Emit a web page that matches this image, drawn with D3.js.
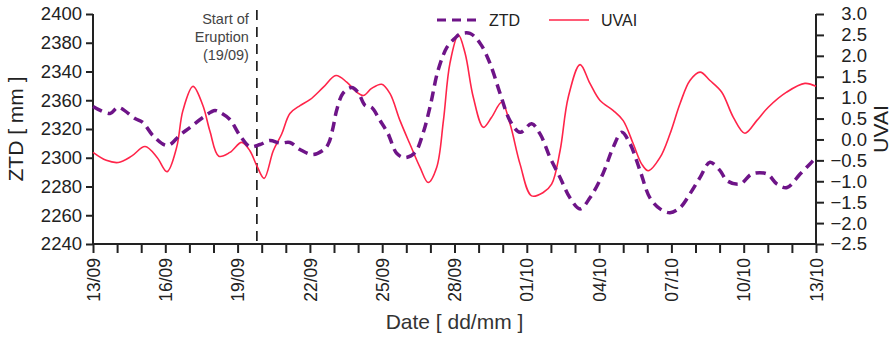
<!DOCTYPE html>
<html>
<head>
<meta charset="utf-8">
<script src="https://cdn.jsdelivr.net/npm/d3@7"></script>
<style>
	body { margin: 0; background: #fff; }
	text { font-family: "Liberation Sans", Arial, sans-serif; }
</style>
</head>
<body>
<svg id="chart" width="896" height="338"></svg>
<script>
// days counted from 13/09
var dateLabels = ['13/09', '16/09', '19/09', '22/09', '25/09', '28/09', '01/10', '04/10', '07/10', '10/10', '13/10'];
var dateLabelDays = [0, 3, 6, 9, 12, 15, 18, 21, 24, 27, 30];

// left axis labels, as printed on the original (2340/2360 swapped)
var ztdTickValues = [2240, 2260, 2280, 2300, 2320, 2340, 2360, 2380, 2400];
var ztdTickLabels = ['2240', '2260', '2280', '2300', '2320', '2360', '2340', '2380', '2400'];
var uvaiTickValues = [-2.5, -2.0, -1.5, -1.0, -0.5, 0.0, 0.5, 1.0, 1.5, 2.0, 2.5, 3.0];

var eruptionDay = 6.8;

var ztdDays = [0, 0.71, 1.04, 1.74, 2.07, 2.49, 3.09, 3.61, 4.02, 4.56, 5.06, 5.27, 5.68, 6.10, 6.51, 6.93, 7.34, 7.76, 8.17, 8.59, 9.13, 9.63, 9.8, 9.96, 10.11, 10.37, 10.73, 11.0, 11.29, 11.56, 11.91, 12.24, 12.61, 12.95, 13.36, 13.69, 13.98, 14.32, 14.69, 15.02, 15.23, 15.64, 16.06, 16.47, 16.89, 17.30, 17.72, 18.2, 18.55, 18.96, 19.38, 19.79, 20.21, 20.62, 21.16, 21.58, 21.94, 22.28, 22.70, 23.11, 23.53, 23.94, 24.36, 24.77, 25.19, 25.60, 26.02, 26.31, 26.85, 27.34, 27.97, 28.38, 28.80, 29.34, 29.75, 30.0];
var ztdValues = [2335.7, 2330.8, 2335.0, 2327.3, 2324.5, 2315.4, 2308.5, 2315.8, 2321.0, 2328.0, 2332.9, 2331.5, 2326.6, 2315.4, 2307.8, 2309.2, 2312.0, 2310.2, 2310.6, 2305.7, 2302.2, 2306.4, 2311.0, 2321.0, 2333.0, 2344.8, 2348.8, 2345.5, 2336.4, 2335.0, 2325.9, 2316.8, 2302.9, 2300.1, 2303.6, 2316.8, 2335.0, 2360.9, 2376.9, 2383.2, 2386.0, 2386.5, 2379.7, 2365.8, 2344.8, 2325.9, 2317.7, 2323.6, 2316.6, 2300.3, 2286.3, 2272.1, 2264.4, 2272.1, 2288.9, 2307.1, 2317.7, 2309.9, 2291.0, 2272.1, 2264.4, 2261.8, 2265.3, 2274.9, 2286.3, 2296.8, 2291.0, 2284.0, 2281.7, 2288.7, 2288.7, 2281.7, 2279.3, 2288.7, 2295.7, 2300.1];

var uvaiDays = [0, 0.55, 1.05, 1.6, 2.16, 2.66, 3.07, 3.47, 3.73, 4.15, 4.56, 4.85, 5.22, 5.68, 6.17, 6.51, 6.79, 7.1, 7.48, 7.83, 8.17, 8.59, 9.0, 9.56, 10.08, 10.53, 10.94, 11.22, 11.56, 11.98, 12.32, 12.74, 13.15, 13.57, 13.91, 14.26, 14.54, 14.81, 15.16, 15.44, 15.78, 16.2, 16.54, 16.96, 17.3, 17.72, 18.2, 18.68, 19.03, 19.38, 19.72, 20.21, 20.62, 21.04, 21.59, 22.0, 22.42, 22.77, 23.04, 23.53, 23.94, 24.36, 24.77, 25.19, 25.6, 26.09, 26.57, 27.05, 27.54, 28.02, 28.78, 29.54, 30];
var uvaiValues = [-0.31, -0.50, -0.55, -0.40, -0.17, -0.43, -0.77, -0.19, 0.69, 1.27, 0.81, 0.20, -0.40, -0.31, -0.07, -0.27, -0.62, -0.93, -0.27, 0.13, 0.62, 0.81, 0.95, 1.25, 1.53, 1.37, 1.13, 1.05, 1.22, 1.32, 1.10, 0.45, -0.11, -0.67, -1.03, -0.67, 0.45, 1.82, 2.50, 2.06, 1.01, 0.29, 0.53, 0.89, 0.38, -0.59, -1.35, -1.27, -1.07, -0.27, 1.01, 1.79, 1.34, 0.93, 0.69, 0.45, -0.11, -0.59, -0.75, -0.43, 0.13, 0.86, 1.41, 1.61, 1.41, 1.13, 0.53, 0.15, 0.45, 0.77, 1.13, 1.34, 1.27];

var ztdColor = '#6e1488';
var uvaiColor = '#ff2449';
var textColor = '#222';

var margin = { left: 93, right: 80, top: 14, bottom: 94 };
var width = 896, height = 338;
var plotW = width - margin.left - margin.right;
var plotH = height - margin.top - margin.bottom;

var svg = d3.select('#chart');
var g = svg.append('g').attr('transform', 'translate(' + margin.left + ',' + margin.top + ')');

var x = d3.scaleLinear().domain([0, 30]).range([0, plotW]);
var yZtd = d3.scaleLinear().domain([2240, 2400]).range([plotH, 0]);
var yUvai = d3.scaleLinear().domain([-2.5, 3.0]).range([plotH, 0]);

// axes
var leftAxis = d3.axisLeft(yZtd).tickValues(ztdTickValues).tickSize(7).tickPadding(4)
	.tickFormat(function(d, i) { return ztdTickLabels[i]; });
var rightAxis = d3.axisRight(yUvai).tickValues(uvaiTickValues).tickSize(8).tickPadding(4)
	.tickFormat(d3.format('.1f'));
var bottomAxis = d3.axisBottom(x).tickValues(d3.range(0, 31)).tickSize(9)
	.tickFormat(function(d) {
		var i = dateLabelDays.indexOf(d);
		return i >= 0 ? dateLabels[i] : '';
	});

function styleAxis(sel) {
	sel.select('.domain').attr('stroke', textColor).attr('stroke-width', 2);
	sel.selectAll('.tick line').attr('stroke', textColor).attr('stroke-width', 2);
	sel.selectAll('text').attr('fill', textColor).style('font-size', '18.5px');
}

var gl = g.append('g').call(leftAxis).call(styleAxis);
gl.select('.domain').attr('d', 'M0,0V' + plotH);
gl.selectAll('.tick text').attr('x', -11);

var gr = g.append('g').attr('transform', 'translate(' + plotW + ',0)').call(rightAxis).call(styleAxis);
gr.select('.domain').attr('d', 'M0,0V' + plotH);
gr.selectAll('.tick text').attr('text-anchor', 'end').attr('x', 51);

var gb = g.append('g').attr('transform', 'translate(0,' + plotH + ')').call(bottomAxis).call(styleAxis);
gb.select('.domain').attr('d', 'M0,0H' + plotW);
gb.selectAll('.tick text')
	.attr('text-anchor', 'end')
	.attr('transform', 'rotate(-90)')
	.attr('x', -14)
	.attr('y', 0)
	.attr('dy', '0.35em')
	.style('font-size', '17.5px');

// eruption marker
g.append('line')
	.attr('x1', x(eruptionDay)).attr('x2', x(eruptionDay))
	.attr('y1', -4).attr('y2', plotH)
	.attr('stroke', '#111').attr('stroke-width', 1.6)
	.attr('stroke-dasharray', '10,7');

var note = g.append('text')
	.attr('text-anchor', 'end')
	.attr('fill', '#444')
	.style('font-size', '14.5px');
['Start of', 'Eruption', '(19/09)'].forEach(function(s, i) {
	note.append('tspan').attr('x', x(eruptionDay) - 8).attr('y', 10 + i * 18).text(s);
});

// series
var ztdPoints = ztdDays.map(function(d, i) { return [d, ztdValues[i]]; });
var uvaiPoints = uvaiDays.map(function(d, i) { return [d, uvaiValues[i]]; });

var ztdLine = d3.line()
	.x(function(d) { return x(d[0]); })
	.y(function(d) { return yZtd(d[1]); })
	.curve(d3.curveCatmullRom.alpha(0.5));
var uvaiLine = d3.line()
	.x(function(d) { return x(d[0]); })
	.y(function(d) { return yUvai(d[1]); })
	.curve(d3.curveCatmullRom.alpha(0.5));

g.append('path').datum(uvaiPoints)
	.attr('d', uvaiLine)
	.attr('fill', 'none')
	.attr('stroke', uvaiColor)
	.attr('stroke-width', 1.6);

g.append('path').datum(ztdPoints)
	.attr('d', ztdLine)
	.attr('fill', 'none')
	.attr('stroke', ztdColor)
	.attr('stroke-width', 3.5)
	.attr('stroke-dasharray', '10,6');

// legend
var legend = svg.append('g');
legend.append('line').attr('x1', 437).attr('x2', 477).attr('y1', 20).attr('y2', 20)
	.attr('stroke', ztdColor).attr('stroke-width', 3).attr('stroke-dasharray', '9,6');
legend.append('text').attr('x', 489).attr('y', 26).attr('fill', textColor)
	.style('font-size', '16px').text('ZTD');
legend.append('line').attr('x1', 549).attr('x2', 589).attr('y1', 20).attr('y2', 20)
	.attr('stroke', uvaiColor).attr('stroke-width', 1.6);
legend.append('text').attr('x', 601).attr('y', 26).attr('fill', textColor)
	.style('font-size', '16px').text('UVAI');

// axis titles
svg.append('text')
	.attr('transform', 'translate(23,' + (margin.top + plotH / 2) + ') rotate(-90)')
	.attr('text-anchor', 'middle').attr('fill', textColor)
	.style('font-size', '21px').text('ZTD [ mm ]');
svg.append('text')
	.attr('transform', 'translate(888,' + (margin.top + plotH / 2) + ') rotate(-90)')
	.attr('text-anchor', 'middle').attr('fill', textColor)
	.style('font-size', '21px').text('UVAI');
svg.append('text')
	.attr('x', margin.left + plotW / 2).attr('y', 329)
	.attr('text-anchor', 'middle').attr('fill', '#333')
	.style('font-size', '21px').text('Date [ dd/mm ]');
</script>
</body>
</html>
